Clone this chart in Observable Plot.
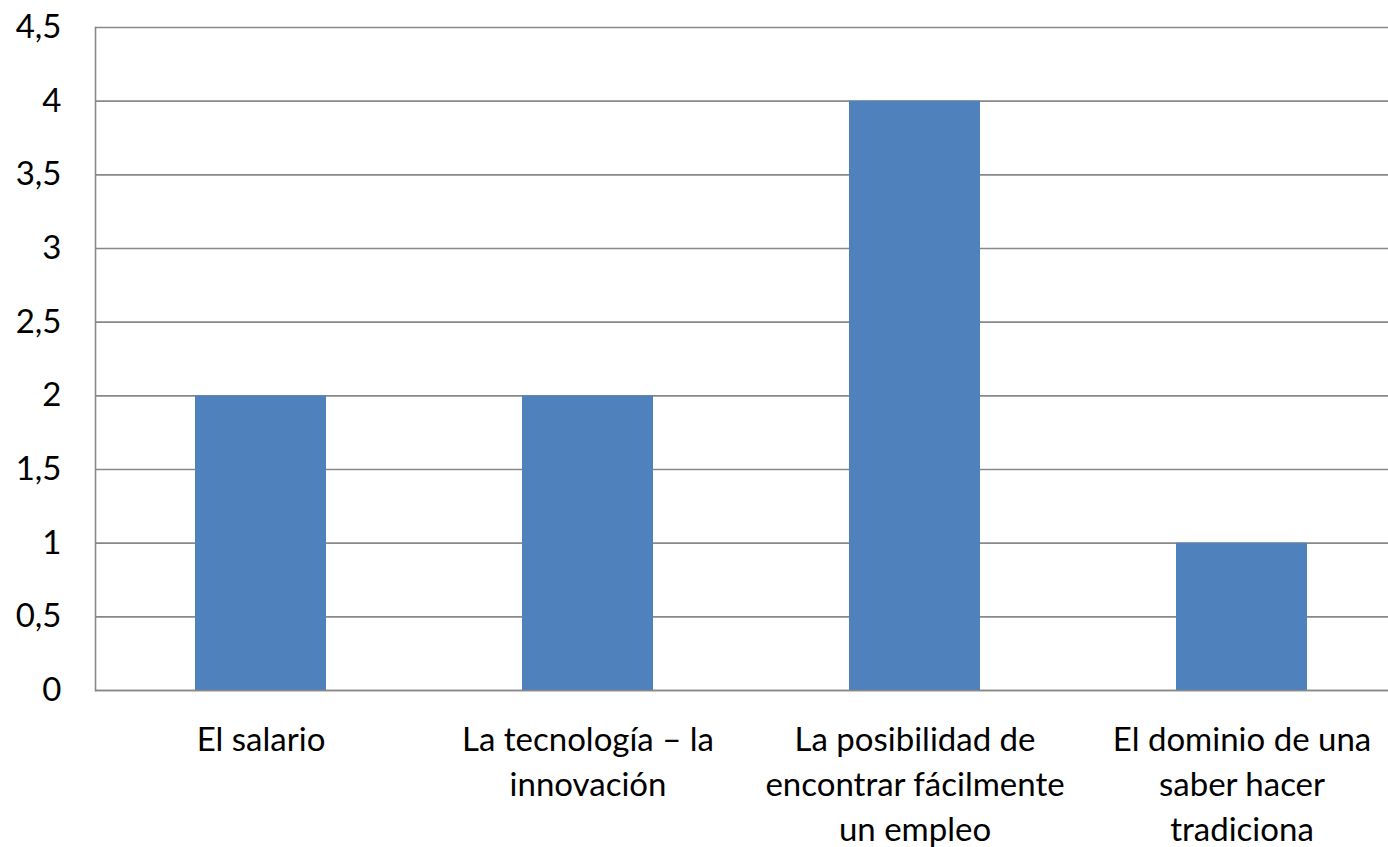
<!DOCTYPE html>
<html>
<head>
<meta charset="utf-8">
<script src="https://cdn.jsdelivr.net/npm/d3@7"></script>
<script src="https://cdn.jsdelivr.net/npm/@observablehq/plot@0.6"></script>
<style>
  html, body { margin: 0; padding: 0; background: #fff; overflow: hidden; }
  #chart svg { display: block; }
</style>
</head>
<body>
<div id="chart"></div>
<script>
const categories = [
  "El salario",
  "La tecnología – la innovación",
  "La posibilidad de encontrar fácilmente un empleo",
  "El dominio de una saber hacer tradiciona"
];
const categoryLabels = [
  "El salario",
  "La tecnología – la\ninnovación",
  "La posibilidad de\nencontrar fácilmente\nun empleo",
  "El dominio de una\nsaber hacer\ntradiciona"
];
const values = [2, 2, 4, 1];
const yTicks = [0, 0.5, 1, 1.5, 2, 2.5, 3, 3.5, 4, 4.5];

const data = categories.map((c, i) => ({category: c, value: values[i]}));
const labelOf = new Map(categories.map((c, i) => [c, categoryLabels[i]]));

const chart = Plot.plot({
  width: 1388,
  height: 847,
  marginTop: 27,
  marginBottom: 157,
  marginLeft: 95,
  marginRight: 0,
  style: {fontFamily: "Lato, 'Open Sans', sans-serif", fontSize: "33px", color: "#000", background: "#fff"},
  x: {domain: categories, range: [95, 1406], paddingInner: 0.6, paddingOuter: 0.3, label: null},
  y: {domain: [0, 4.5], label: null},
  marks: [
    Plot.gridY(yTicks, {stroke: "#888", strokeOpacity: 1, strokeWidth: 1.6}),
    Plot.barY(data, {x: "category", y: "value", fill: "#4F81BD"}),
    Plot.ruleY([0], {stroke: "#888", strokeWidth: 1.6}),
    Plot.frame({anchor: "left", stroke: "#888", strokeWidth: 1.6}),
    Plot.axisY(yTicks, {tickSize: 0, tickPadding: 34, tickFormat: d => String(d).replace(".", ","), fontSize: 33, fill: "#000"}),
    Plot.axisX({tickSize: 0, tickPadding: 28, tickFormat: d => labelOf.get(d), fontSize: 33, lineHeight: 1.37, fill: "#000"})
  ]
});
document.getElementById("chart").appendChild(chart);
</script>
</body>
</html>
